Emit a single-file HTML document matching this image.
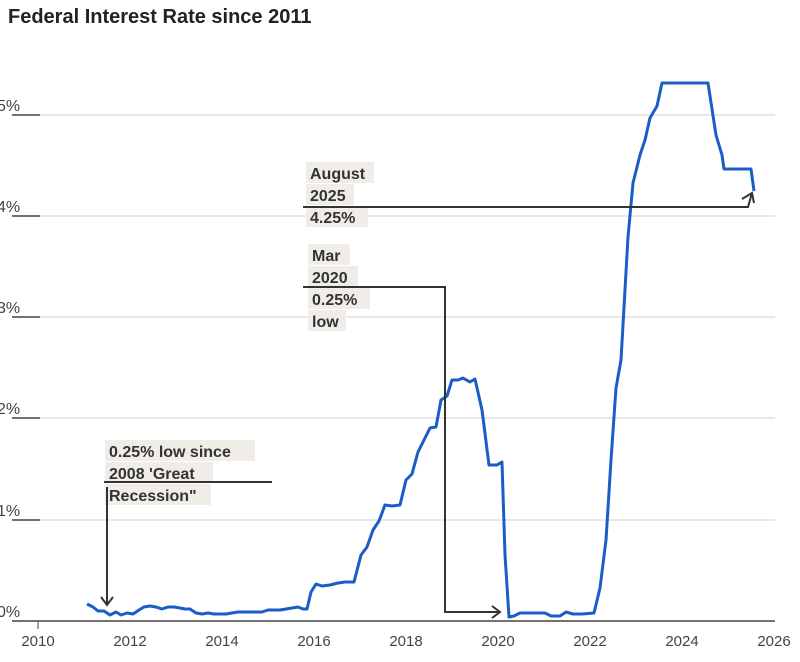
<!DOCTYPE html>
<html><head><style>
body{margin:0;background:#fff;}
svg text{font-family:"Liberation Sans",sans-serif;}
</style></head><body>
<svg width="800" height="657" viewBox="0 0 800 657" xmlns="http://www.w3.org/2000/svg">
<text x="8" y="23" font-size="20" font-weight="bold" fill="#222">Federal Interest Rate since 2011</text>
<g stroke="#d0d0d0" stroke-width="1">
<line x1="38" y1="115" x2="775" y2="115"/><line x1="38" y1="216" x2="775" y2="216"/>
<line x1="38" y1="317" x2="775" y2="317"/><line x1="38" y1="418" x2="775" y2="418"/>
<line x1="38" y1="520" x2="775" y2="520"/>
</g>
<g stroke="#444" stroke-width="1.5">
<line x1="12" y1="115" x2="40" y2="115"/><line x1="12" y1="216" x2="40" y2="216"/>
<line x1="12" y1="317" x2="40" y2="317"/><line x1="12" y1="418" x2="40" y2="418"/>
<line x1="12" y1="520" x2="40" y2="520"/>
<line x1="12" y1="621" x2="775" y2="621"/>
</g>
<g font-size="16" fill="#444">
<text x="-3" y="111">5%</text><text x="-3" y="212">4%</text><text x="-3" y="313">3%</text>
<text x="-3" y="414">2%</text><text x="-3" y="516">1%</text><text x="-3" y="617">0%</text>
</g>
<g stroke="#444" stroke-width="1"><line x1="38" y1="621" x2="38" y2="629"/></g>
<g font-size="15" fill="#444" text-anchor="middle">
<text x="38" y="646">2010</text><text x="130" y="646">2012</text><text x="222" y="646">2014</text>
<text x="314" y="646">2016</text><text x="406" y="646">2018</text><text x="498" y="646">2020</text>
<text x="590" y="646">2022</text><text x="682" y="646">2024</text><text x="774" y="646">2026</text>
</g>
<polyline fill="none" stroke="#1a5cc8" stroke-width="3" stroke-linejoin="round" points="87,604 93,607 98,611 104,611 110,615 116,612 121,615 127,613 133,614 139,610 144,607 150,606 156,607 162,609 168,607 174,607 180,608 185,609 190,609 196,613 202,614 208,613 214,614 220,614 226,614 232,613 238,612 244,612 250,612 256,612 262,612 268,610 274,610 280,610 286,609 292,608 298,607 303,609 307,609 311,592 316,584 322,586 330,585 338,583 345,582 354,582 361,555 367,547 373,530 379,521 385,505 392,506 400,505 406,480 412,474 418,452 424,440 430,428 436,427 441,400 447,396 452,380 458,380 463,378 470,382 475,379 482,410 489,465 497,465 502,462 505,555 509,617 514,616 520,613 530,613 545,613 551,616 560,616 566,612 573,614 582,614 594,613 600,588 606,540 611,460 616,388 621,360 628,237 633,183 640,155 645,140 650,118 657,106 662,83 708,83 716,135 722,155 724,169 751,169 754,191"/>
<g font-size="16" font-weight="bold" fill="#333">
<rect x="306" y="162" width="68" height="21" fill="#f0ede8"/><text x="310" y="179">August</text>
<rect x="306" y="184" width="48" height="21" fill="#f0ede8"/><text x="310" y="201">2025</text>
<rect x="306" y="206" width="62" height="21" fill="#f0ede8"/><text x="310" y="223">4.25%</text>
<rect x="308" y="244" width="42" height="21" fill="#f0ede8"/><text x="312" y="261">Mar</text>
<rect x="308" y="266" width="50" height="21" fill="#f0ede8"/><text x="312" y="283">2020</text>
<rect x="308" y="288" width="62" height="21" fill="#f0ede8"/><text x="312" y="305">0.25%</text>
<rect x="308" y="310" width="38" height="21" fill="#f0ede8"/><text x="312" y="327">low</text>
<rect x="105" y="440" width="150" height="21" fill="#f0ede8"/><text x="109" y="457">0.25% low since</text>
<rect x="105" y="462" width="108" height="21" fill="#f0ede8"/><text x="109" y="479">2008 'Great</text>
<rect x="105" y="484" width="106" height="21" fill="#f0ede8"/><text x="109" y="501">Recession"</text>
</g>
<g fill="none" stroke="#333" stroke-width="2">
<polyline points="303,207 748,207 752,193"/><polyline points="742,199 752,193 754,203"/>
<polyline points="303,287 445,287 445,612 500,612"/><polyline points="492,606 500,612 492,618"/>
<line x1="104" y1="482" x2="272" y2="482"/>
<line x1="107" y1="487" x2="107" y2="605"/><polyline points="101,597 107,605 113,597"/>
</g>
</svg>
</body></html>
